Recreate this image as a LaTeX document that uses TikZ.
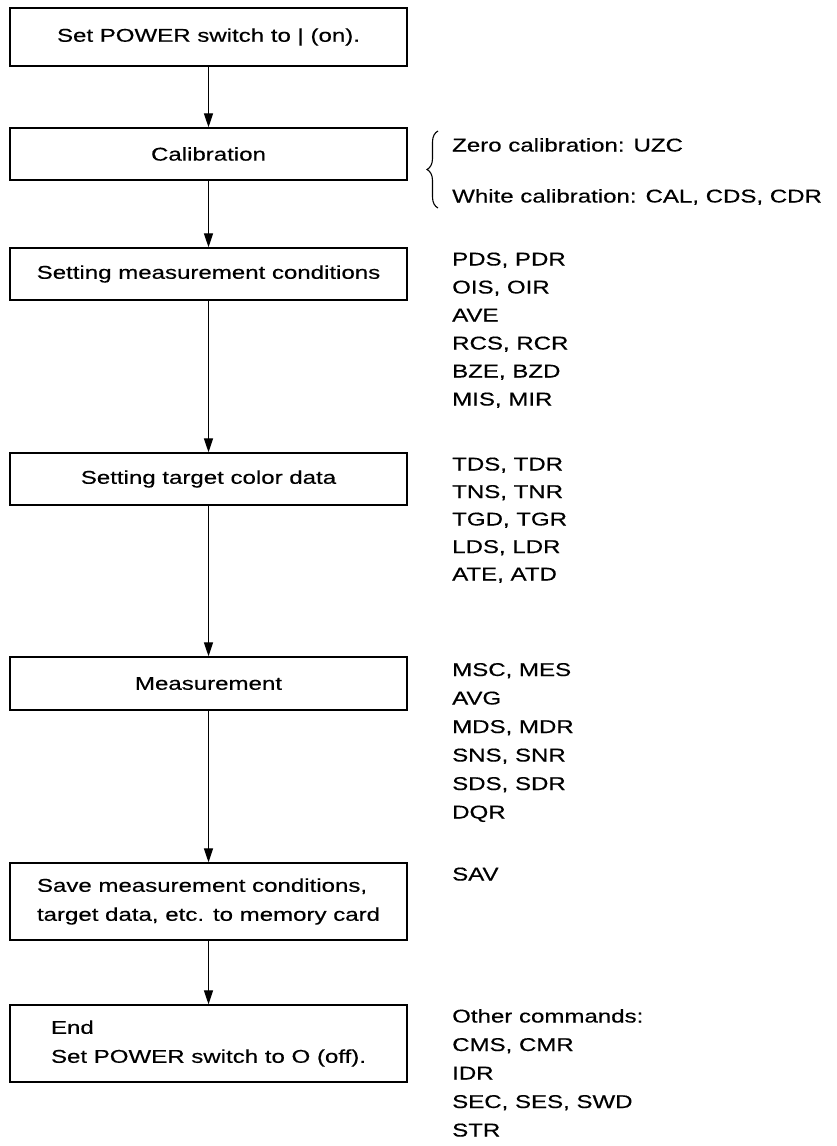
\documentclass[tikz,border=0pt]{standalone}
\usepackage{fontspec}
\setmainfont{Liberation Sans}[FakeStretch=1.3,FakeBold=0.4]
\usetikzlibrary{arrows.meta,decorations.pathreplacing}
\begin{document}
\begin{tikzpicture}[x=1pt,y=1pt,
  every node/.style={font=\fontsize{18.5}{29}\selectfont},
  stepbox/.style={draw, line width=1.4pt, minimum width=397pt, inner sep=0pt, align=center},
  arr/.style={-{Triangle[length=14pt,width=9pt]}, line width=1.2pt},
  cmd/.style={anchor=base west, inner sep=0pt}]
\useasboundingbox (0,0) rectangle (836,-1146);
% boxes
\node[stepbox, minimum height=58pt] (b1) at (208.5,-37) {Set POWER switch to | (on).};
\node[stepbox, minimum height=52pt] (b2) at (208.5,-154) {Calibration};
\node[stepbox, minimum height=52pt] (b3) at (208.5,-274) {Setting measurement conditions};
\node[stepbox, minimum height=52pt] (b4) at (208.5,-479) {Setting target color data};
\node[stepbox, minimum height=53pt] (b5) at (208.5,-683.5) {Measurement};
\node[stepbox, minimum height=77pt, align=left] (b6) at (208.5,-901.5) {Save measurement conditions,\\target data, etc. to memory card};
\node[stepbox, minimum height=77pt, align=left] (b7) at (208.5,-1043.5) {End\\Set POWER switch to O (off).};
% arrows
\draw[arr] (b1) -- (b2);
\draw[arr] (b2) -- (b3);
\draw[arr] (b3) -- (b4);
\draw[arr] (b4) -- (b5);
\draw[arr] (b5) -- (b6);
\draw[arr] (b6) -- (b7);
% brace
\coordinate (brtop) at (438,-131);
\coordinate (brbot) at (438,-208);
\draw[decorate, decoration={brace, amplitude=11pt}, line width=1.1pt] (brbot) -- (brtop);
\node[cmd] (z1) at (452,-151.5) {Zero calibration: UZC};
\node[cmd] (z2) at (452,-202.5) {White calibration: CAL, CDS, CDR};
% list 1
\node[cmd] (m1) at (452,-265.5) {PDS, PDR};
\node[cmd] (m2) at (452,-293.5) {OIS, OIR};
\node[cmd] (m3) at (452,-321.5) {AVE};
\node[cmd] (m4) at (452,-349.5) {RCS, RCR};
\node[cmd] (m5) at (452,-377.5) {BZE, BZD};
\node[cmd] (m6) at (452,-405.5) {MIS, MIR};
% list 2
\node[cmd] (t1) at (452,-470.5) {TDS, TDR};
\node[cmd] (t2) at (452,-498) {TNS, TNR};
\node[cmd] (t3) at (452,-525.5) {TGD, TGR};
\node[cmd] (t4) at (452,-553) {LDS, LDR};
\node[cmd] (t5) at (452,-580.5) {ATE, ATD};
% list 3
\node[cmd] (s1) at (452,-676) {MSC, MES};
\node[cmd] (s2) at (452,-704.5) {AVG};
\node[cmd] (s3) at (452,-733) {MDS, MDR};
\node[cmd] (s4) at (452,-761.5) {SNS, SNR};
\node[cmd] (s5) at (452,-790) {SDS, SDR};
\node[cmd] (s6) at (452,-818.5) {DQR};
% save
\node[cmd] (v1) at (452,-880.5) {SAV};
% other
\node[cmd] (o1) at (452,-1022.5) {Other commands:};
\node[cmd] (o2) at (452,-1051) {CMS, CMR};
\node[cmd] (o3) at (452,-1079.5) {IDR};
\node[cmd] (o4) at (452,-1108) {SEC, SES, SWD};
\node[cmd] (o5) at (452,-1136.5) {STR};
\end{tikzpicture}
\end{document}
